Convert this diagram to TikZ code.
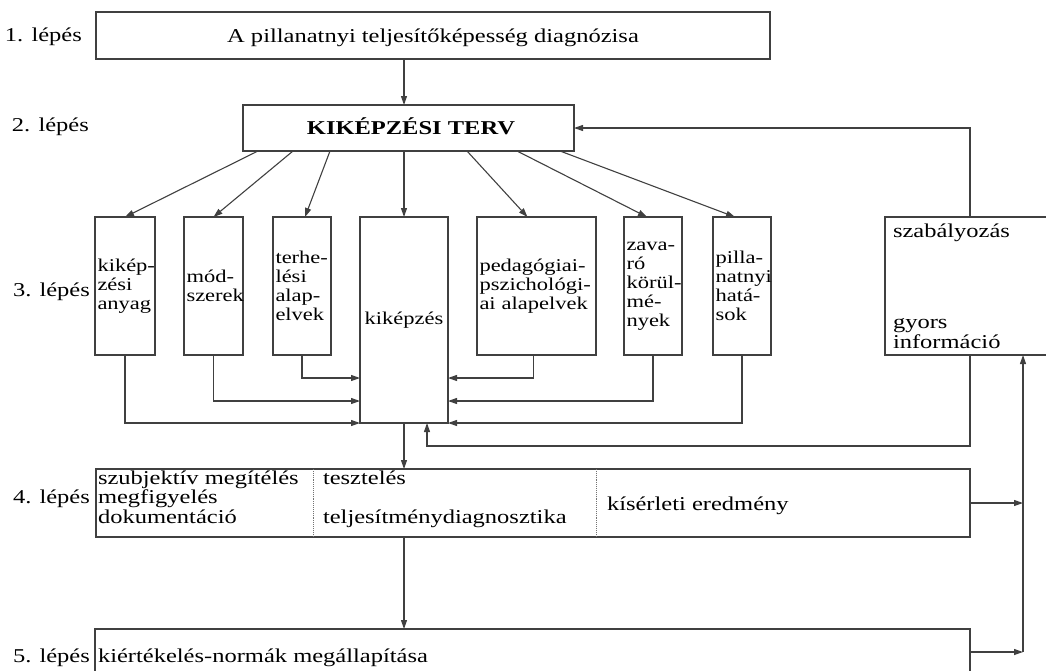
\documentclass[tikz,border=0pt]{standalone}
\usepackage{fontspec}
\setmainfont{Liberation Serif}[FakeStretch=1.25]
\usetikzlibrary{arrows.meta,calc}
\begin{document}
\begin{tikzpicture}[x=1pt,y=-1pt,
  every node/.style={inner sep=0pt, outer sep=0pt},
  ln/.style={draw=black!75, line width=1.1pt},
  arr/.style={ln, -{Triangle[length=9pt,width=6pt]}},
  div/.style={draw=black!55, line width=0.9pt, densely dotted},
  box/.style={ln, rectangle},
  big/.style={font=\fontsize{19.6}{19.6}\selectfont},
  small/.style={font=\fontsize{18}{19}\selectfont,
    execute at begin node={\hyphenpenalty=10000 \exhyphenpenalty=10000 \lineskiplimit=-100pt \lineskip=0pt \hbadness=10000 \hfuzz=100pt }},
  col/.style={box, small, align=left, inner xsep=2.5pt, minimum height=138pt},
  txt/.style={big, anchor=base west},
]
\useasboundingbox (0,0) rectangle (1046,670);
\clip (0,0) rectangle (1046,670);

% step labels
\node[txt] (l1) at (5,41) {1. lépés};
\node[txt] (l2) at (12,131) {2. lépés};
\node[txt] (l3) at (13,296) {3. lépés};
\node[txt] (l4) at (13,503) {4. lépés};
\node[txt] (l5) at (13,662) {5. lépés};

% step 1 and 2
\node[box, minimum width=674pt, minimum height=47pt] (diag) at (433,35.5) {};
\node[big, anchor=base] (diagt) at (433,42) {A pillanatnyi teljesítőképesség diagnózisa};
\node[box, minimum width=331pt, minimum height=46pt] (terv) at (408.5,128) {};
\node[big, anchor=base] (tervt) at (411,134) {\bfseries KIKÉPZÉSI TERV};

% step 3 columns
\node[col, minimum width=60pt, text width=55pt] (anyag) at (125,286) {kikép-\\zési\\anyag};
\node[col, minimum width=59pt, text width=54pt] (modsz) at (213.5,286) {mód-\\szerek};
\node[col, minimum width=58pt, text width=53pt] (terh) at (302,286) {terhe-\\lési\\alap-\\elvek};
\node[box, small, minimum width=88pt, minimum height=206pt] (kikep) at (404,320) {kiképzés};
\node[col, minimum width=119pt, text width=114pt] (peda) at (536.5,286) {pedagógiai-\\pszichológi-\\ai alapelvek};
\node[col, minimum width=58pt, text width=53pt] (zavaro) at (653,286) {zava-\\ró\\körül-\\mé-\\nyek};
\node[col, minimum width=58pt, text width=53pt] (pill) at (742,286) {pilla-\\natnyi\\hatá-\\sok};
\node[box, minimum width=170pt, minimum height=138pt] (szab) at (970,286) {};
\node[txt] (szab1) at (893,237) {szabályozás};
\node[txt] (szab2) at (893,328) {gyors};
\node[txt] (szab3) at (893,348) {információ};

% step 4
\node[box, minimum width=874pt, minimum height=68pt] (step4) at (533,503) {};
\coordinate (d1) at ($(step4.north west)+(217,0)$);
\coordinate (d2) at ($(step4.north west)+(500,0)$);
\draw[div] (d1) -- (d1 |- step4.south);
\draw[div] (d2) -- (d2 |- step4.south);
\node[txt] (s4a) at (98,484) {szubjektív megítélés};
\node[txt] (s4b) at (98,503) {megfigyelés};
\node[txt] (s4c) at (98,523) {dokumentáció};
\node[txt] (s4d) at (323,484) {tesztelés};
\node[txt] (s4e) at (323,523) {teljesítménydiagnosztika};
\node[txt] (s4f) at (607,510) {kísérleti eredmény};

% step 5
\node[box, minimum width=875pt, minimum height=46pt] (step5) at (532.5,652) {};
\node[txt] (s5) at (98,662) {kiértékelés-normák megállapítása};

% plan arrows
\draw[arr] (diag.south -| kikep.north) -- (terv.north -| kikep.north);
\draw[arr] ($(terv.south west)+(15,0)$) -- (anyag.north);
\draw[arr] ($(terv.south west)+(50,0)$) -- (modsz.north);
\draw[arr] ($(terv.south west)+(87,0)$) -- ($(terh.north)+(3,0)$);
\draw[arr] (terv.south -| kikep.north) -- (kikep.north);
\draw[arr] ($(terv.south west)+(224,0)$) -- ($(peda.north)+(-9,0)$);
\draw[arr] ($(terv.south west)+(274,0)$) -- ($(zavaro.north)+(-6,0)$);
\draw[arr] ($(terv.south west)+(317,0)$) -- ($(pill.north)+(-7,0)$);
\draw[arr] (szab.north) |- (terv.east);

% inputs to training
\draw[arr] (anyag.south) |- (kikep.south west);
\draw[arr] (modsz.south) |- ($(kikep.south west)+(0,-22)$);
\draw[arr] (terh.south) |- ($(kikep.south west)+(0,-45)$);
\draw[arr] ($(peda.south)+(-3,0)$) |- ($(kikep.south east)+(0,-45)$);
\draw[arr] (zavaro.south) |- ($(kikep.south east)+(0,-22)$);
\draw[arr] (pill.south) |- (kikep.south east);

% control loop
\draw[arr] (kikep.south) -- (kikep.south |- step4.north);
\coordinate (fb) at ($(kikep.south)+(23,23)$);
\draw[arr] (szab.south) |- (fb) -- (fb |- kikep.south);
\draw[arr] (step4.south -| kikep.south) -- (step5.north -| kikep.south);
\coordinate (bus) at ($(step5.east)+(53,0)$);
\draw[arr] (step4.east) -- (step4.east -| bus);
\draw[arr] (step5.east) -- (bus);
\draw[arr] (bus) -- (bus |- szab.south);
\end{tikzpicture}
\end{document}
